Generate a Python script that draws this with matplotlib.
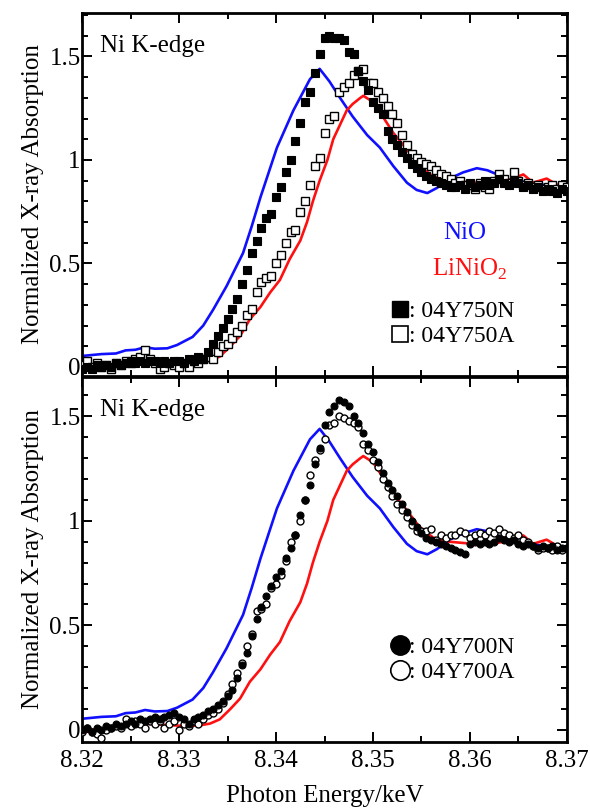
import matplotlib
matplotlib.use("Agg")
import matplotlib.pyplot as plt
from matplotlib.lines import Line2D
from matplotlib.ticker import MultipleLocator, FixedLocator, FuncFormatter

plt.rcParams["font.family"] = ["Liberation Serif", "DejaVu Serif"]
plt.rcParams["mathtext.fontset"] = "custom"
plt.rcParams["mathtext.rm"] = "Liberation Serif"

# reference spectra (same for both panels)
nio_energy = [8.3200, 8.3220, 8.3235, 8.3245, 8.3255, 8.3265, 8.3275, 8.3288, 8.3298,
              8.3314, 8.3325, 8.3335, 8.3349, 8.3366, 8.3375, 8.3384, 8.3401, 8.3418,
              8.3435, 8.3445, 8.3455, 8.3466, 8.3479, 8.3494, 8.3507, 8.3521, 8.3535,
              8.3545, 8.3556, 8.3566, 8.3579, 8.3593, 8.3607, 8.3618, 8.3628, 8.3644,
              8.3665, 8.3686, 8.3700]
nio_abs = [0.053, 0.062, 0.065, 0.080, 0.083, 0.095, 0.088, 0.090, 0.106,
           0.145, 0.20, 0.275, 0.39, 0.55, 0.68, 0.82, 1.06, 1.24,
           1.39, 1.44, 1.38, 1.30, 1.21, 1.12, 1.06, 0.97, 0.89,
           0.855, 0.84, 0.865, 0.91, 0.94, 0.96, 0.95, 0.93, 0.90,
           0.89, 0.87, 0.855]

linio2_energy = [8.3200, 8.3210, 8.3230, 8.3250, 8.3265, 8.3280, 8.3300, 8.3320, 8.3332,
                 8.3342, 8.3353, 8.3363, 8.3373, 8.3384, 8.3394, 8.3404, 8.3414, 8.3425,
                 8.3432, 8.3438, 8.3445, 8.3453, 8.3459, 8.3466, 8.3473, 8.3479, 8.3487,
                 8.3490, 8.3500, 8.3510, 8.3521, 8.3535, 8.3548, 8.3562, 8.3579, 8.3603,
                 8.3624, 8.3644, 8.3655, 8.3665, 8.3679, 8.3690, 8.3700]
linio2_abs = [-0.02, 0.0, 0.005, 0.02, 0.03, 0.025, 0.02, 0.02, 0.03,
              0.05, 0.10, 0.15, 0.23, 0.29, 0.36, 0.42, 0.52, 0.61,
              0.70, 0.80, 0.90, 1.00, 1.10, 1.17, 1.24, 1.27, 1.30,
              1.31, 1.28, 1.21, 1.13, 1.05, 0.97, 0.92, 0.90, 0.89,
              0.89, 0.91, 0.93, 0.89, 0.91, 0.88, 0.865]

# sample scans
scan_energy = [8.3200, 8.3205, 8.3210, 8.3215, 8.3220, 8.3225, 8.3230, 8.3235, 8.3240, 8.3245,
               8.3250, 8.3255, 8.3260, 8.3265, 8.3270, 8.3275, 8.3280, 8.3285, 8.3290, 8.3295,
               8.3300, 8.3305, 8.3310, 8.3315, 8.3320, 8.3325, 8.3330, 8.3335, 8.3340, 8.3345,
               8.3350, 8.3355, 8.3360, 8.3365, 8.3370, 8.3375, 8.3380, 8.3385, 8.3390, 8.3395,
               8.3400, 8.3405, 8.3410, 8.3415, 8.3420, 8.3425, 8.3430, 8.3435, 8.3440, 8.3445,
               8.3450, 8.3455, 8.3460, 8.3465, 8.3470, 8.3475, 8.3480, 8.3485, 8.3490, 8.3495,
               8.3500, 8.3505, 8.3510, 8.3515, 8.3520, 8.3525, 8.3530, 8.3535, 8.3540, 8.3545,
               8.3550, 8.3555, 8.3560, 8.3565, 8.3570, 8.3575, 8.3580, 8.3585, 8.3590, 8.3595,
               8.3600, 8.3605, 8.3610, 8.3615, 8.3620, 8.3625, 8.3630, 8.3635, 8.3640, 8.3645,
               8.3650, 8.3655, 8.3660, 8.3665, 8.3670, 8.3675, 8.3680, 8.3685, 8.3690, 8.3695,
               8.3700]

y750n = [-0.01, 0.00, -0.01, 0.01, 0.00, 0.01, 0.00, 0.02, 0.01, 0.02,
         0.03, 0.02, 0.03, 0.02, 0.03, 0.03, 0.02, 0.03, 0.02, 0.03,
         0.03, 0.02, 0.04, 0.03, 0.05, 0.04, 0.07, 0.11, 0.15, 0.19,
         0.23, 0.28, 0.33, 0.40, 0.47, 0.55, 0.61, 0.67, 0.72, 0.74,
         0.82, 0.87, 0.94, 1.00, 1.09, 1.18, 1.28, 1.33, 1.42, 1.51,
         1.59, 1.60, 1.59, 1.59, 1.58, 1.52, 1.51, 1.43, 1.38, 1.34,
         1.28, 1.25, 1.22, 1.14, 1.10, 1.07, 1.04, 1.01, 0.98, 0.96,
         0.94, 0.92, 0.91, 0.90, 0.89, 0.88, 0.87, 0.87, 0.88, 0.86,
         0.89, 0.87, 0.88, 0.90, 0.88, 0.89, 0.91, 0.89, 0.88, 0.90,
         0.89, 0.87, 0.88, 0.86, 0.87, 0.85, 0.86, 0.85, 0.84, 0.86,
         0.85]

y750a = [0.01, 0.03, 0.00, 0.02, 0.00, 0.01, -0.01, 0.02, 0.01, 0.03,
         0.02, 0.04, 0.05, 0.08, 0.04, 0.02, -0.01, 0.00, 0.02, 0.01,
         0.00, 0.02, 0.00, 0.03, 0.02, 0.04, 0.05, 0.04, 0.07, 0.10,
         0.11, 0.14, 0.17, 0.20, 0.25, 0.28, 0.36, 0.41, 0.43, 0.44,
         0.50, 0.54, 0.60, 0.65, 0.66, 0.75, 0.80, 0.88, 0.97, 1.01,
         1.13, 1.20, 1.21, 1.33, 1.35, 1.37, 1.41, 1.43, 1.44, 1.37,
         1.37, 1.33, 1.30, 1.26, 1.22, 1.18, 1.12, 1.07, 1.03, 1.01,
         0.99, 0.98, 0.97, 0.95, 0.93, 0.92, 0.91, 0.89, 0.90, 0.88,
         0.88, 0.86, 0.89, 0.87, 0.86, 0.90, 0.93, 0.91, 0.89, 0.94,
         0.90, 0.88, 0.89, 0.87, 0.88, 0.86, 0.87, 0.88, 0.86, 0.88,
         0.87]

y700n = [0.00, 0.01, -0.01, 0.01, 0.00, 0.02, 0.01, 0.03, 0.02, 0.03,
         0.04, 0.03, 0.05, 0.04, 0.05, 0.06, 0.05, 0.06, 0.07, 0.08,
         0.06, 0.05, 0.03, 0.05, 0.06, 0.07, 0.09, 0.10, 0.12, 0.14,
         0.16, 0.19, 0.25, 0.31, 0.37, 0.45, 0.53, 0.59, 0.64, 0.69,
         0.73, 0.76, 0.82, 0.87, 0.93, 1.03, 1.10, 1.17, 1.27, 1.35,
         1.46, 1.52, 1.55, 1.58, 1.57, 1.55, 1.50, 1.47, 1.42, 1.37,
         1.33, 1.28, 1.23, 1.18, 1.15, 1.12, 1.08, 1.04, 1.00, 0.97,
         0.94, 0.92, 0.91, 0.90, 0.89, 0.88, 0.87, 0.86, 0.85, 0.84,
         0.89, 0.90, 0.89, 0.90, 0.89, 0.90, 0.92, 0.91, 0.90, 0.91,
         0.89, 0.88, 0.89, 0.88, 0.87, 0.88, 0.87, 0.88, 0.86, 0.87,
         0.87]

y700a = [-0.01, 0.01, -0.01, -0.02, -0.04, 0.00, 0.01, 0.02, 0.01, 0.05,
         0.02, 0.04, 0.03, 0.01, 0.04, 0.03, 0.04, 0.01, 0.03, 0.04,
         0.00, 0.03, 0.02, 0.04, 0.03, 0.05, 0.07, 0.08, 0.10, 0.13,
         0.17, 0.22, 0.27, 0.32, 0.40, 0.46, 0.57, 0.58, 0.60, 0.68,
         0.70, 0.74, 0.81, 0.90, 0.93, 1.00, 1.10, 1.22, 1.29, 1.34,
         1.39, 1.46, 1.47, 1.50, 1.49, 1.48, 1.47, 1.45, 1.37, 1.34,
         1.29, 1.26, 1.20, 1.16, 1.12, 1.08, 1.05, 1.02, 0.98, 0.95,
         0.95, 0.95, 0.96, 0.91, 0.93, 0.92, 0.93, 0.93, 0.95, 0.94,
         0.92, 0.93, 0.94, 0.93, 0.95, 0.94, 0.96, 0.94, 0.93, 0.92,
         0.93, 0.91, 0.90, 0.88, 0.86, 0.87, 0.87, 0.86, 0.88, 0.86,
         0.87]

x_ticks = [8.32, 8.33, 8.34, 8.35, 8.36, 8.37]
y_ticks = [0, 0.5, 1, 1.5]

fig = plt.figure(figsize=(5.9, 8.1), dpi=100)
ax_top = fig.add_axes([0.139, 0.536, 0.822, 0.448])
ax_bot = fig.add_axes([0.139, 0.084, 0.822, 0.451], sharex=ax_top)

panels = [
    (ax_top, y750n, y750a, "s", ": 04Y750N", ": 04Y750A", (-0.043, 1.71), 0.143),
    (ax_bot, y700n, y700a, "o", ": 04Y700N", ": 04Y700A", (-0.058, 1.69), 0.225),
]

for ax, filled, hollow, mk, lab_n, lab_a, ylim, leg_y in panels:
    ax.plot(nio_energy, nio_abs, color="#1010ff", lw=1.9, zorder=2)
    ax.plot(linio2_energy, linio2_abs, color="#ff1010", lw=1.9, zorder=2)
    ms = 5.3 if mk == "s" else 5.0
    ax.plot(scan_energy, hollow, ls="none", marker=mk, ms=ms, mfc="white",
            mec="black", mew=1.0, zorder=3)
    ax.plot(scan_energy, filled, ls="none", marker=mk, ms=ms, mfc="black",
            mec="black", mew=0.8, zorder=4)

    ax.set_xlim(8.32, 8.37)
    ax.set_ylim(*ylim)
    ax.xaxis.set_major_locator(FixedLocator(x_ticks))
    ax.xaxis.set_minor_locator(MultipleLocator(0.005))
    ax.yaxis.set_major_locator(FixedLocator(y_ticks))
    ax.yaxis.set_minor_locator(MultipleLocator(0.1))
    ax.yaxis.set_major_formatter(FuncFormatter(lambda v, p: f"{v:g}"))
    ax.tick_params(which="both", direction="in", top=True, right=True, width=1.4,
                   labelsize=18)
    ax.tick_params(which="major", length=7)
    ax.tick_params(which="minor", length=4)
    ax.tick_params(axis="y", pad=1)
    for sp in ax.spines.values():
        sp.set_linewidth(2)

    ax.set_ylabel("Normalized X-ray Absorption", fontsize=18, labelpad=4)
    ax.text(0.037, 0.91, "Ni K-edge", transform=ax.transAxes, fontsize=18,
            ha="left", va="center")

    ms_leg = 12 if mk == "s" else 14
    handles = [
        Line2D([], [], ls="none", marker=mk, ms=ms_leg, mfc="black", mec="black"),
        Line2D([], [], ls="none", marker=mk, ms=ms_leg, mfc="white", mec="black", mew=1.2),
    ]
    ax.legend(handles, [lab_n, lab_a], loc="center", bbox_to_anchor=(0.765, leg_y),
              frameon=False, fontsize=17, handlelength=0.7, handletextpad=0.05,
              labelspacing=0.15, borderpad=0)

ax_top.text(0.79, 0.394, "NiO", transform=ax_top.transAxes, fontsize=18,
            color="#1010ff", ha="center", va="center")
ax_top.text(0.80, 0.292, r"LiNiO$_\mathrm{2}$", transform=ax_top.transAxes, fontsize=18,
            color="#ff1010", ha="center", va="center")

ax_top.tick_params(axis="x", labelbottom=False)
ax_bot.set_xlabel("Photon Energy/keV", fontsize=18, labelpad=9)
ax_bot.tick_params(axis="x", pad=6)

fig.savefig("out.png", dpi=100)
